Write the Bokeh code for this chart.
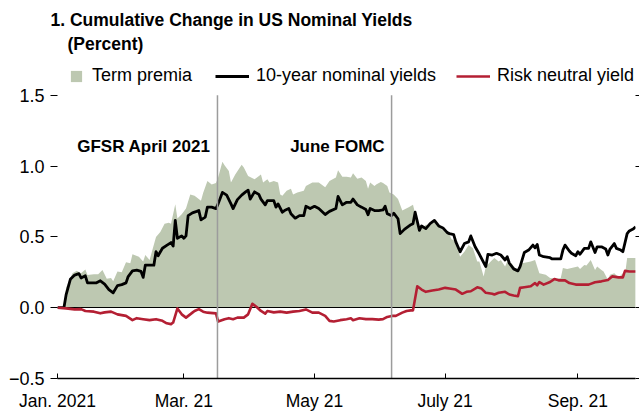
import pandas as pd
from bokeh.plotting import figure
from bokeh.models import (Range1d, FixedTicker, LinearAxis, Label, Legend, LegendItem, Title)
from bokeh.embed import file_html
from bokeh.resources import INLINE

FONT = "Liberation Sans"
BASE = pd.Timestamp("2021-01-01")

# ---- data: x values are days since 2021-01-01, y values in percent ----
nominal_day = [0, 3, 4, 6, 8, 10, 11, 13, 14, 16, 18, 20, 22, 24, 26, 28, 30, 32, 33, 35,
               37, 39, 40, 41, 43, 45, 46, 47, 49, 51, 53, 54, 55, 56, 58, 59, 60, 61, 63, 65,
               66, 67, 69, 70, 72, 74, 75, 77, 79, 81, 82, 84, 86, 88, 89, 90, 92, 94, 95, 97,
               98, 101, 102, 103, 105, 106, 108, 109, 111, 113, 115, 116, 118, 120, 122, 125, 127, 130, 131, 133,
               135, 137, 138, 140, 142, 144, 145, 146, 148, 150, 152, 153, 154, 156, 157, 159, 160, 162, 165, 166,
               167, 169, 170, 172, 174, 176, 178, 180, 182, 183, 185, 186, 188, 190, 192, 193, 195, 197, 200, 201,
               203, 205, 207, 209, 210, 211, 213, 215, 216, 218, 220, 222, 223, 224, 225, 227, 230, 231, 233, 235,
               236, 237, 239, 240, 242, 243, 244, 246, 248, 249, 251, 252, 254, 256, 257, 258, 260, 261, 263, 264,
               266, 267, 269, 270]
nominal_yield = [0.0, 0.0, 0.09, 0.20, 0.23, 0.24, 0.21, 0.225, 0.175, 0.175, 0.175, 0.19, 0.167, 0.128, 0.105, 0.156, 0.163, 0.175, 0.22, 0.26,
                 0.265, 0.256, 0.214, 0.30, 0.30, 0.30, 0.395, 0.367, 0.42, 0.44, 0.46, 0.435, 0.616, 0.49, 0.507, 0.49, 0.507, 0.65, 0.67, 0.68,
                 0.686, 0.62, 0.64, 0.71, 0.71, 0.70, 0.733, 0.814, 0.795, 0.733, 0.70, 0.763, 0.795, 0.82, 0.83, 0.767, 0.818, 0.80, 0.767, 0.726,
                 0.756, 0.756, 0.71, 0.733, 0.674, 0.686, 0.70, 0.663, 0.632, 0.65, 0.65, 0.716, 0.70, 0.716, 0.70, 0.658, 0.68, 0.70, 0.786, 0.726,
                 0.744, 0.744, 0.767, 0.726, 0.71, 0.693, 0.656, 0.70, 0.686, 0.686, 0.69, 0.716, 0.663, 0.65, 0.667, 0.628, 0.523, 0.553, 0.586, 0.593,
                 0.674, 0.546, 0.577, 0.558, 0.593, 0.616, 0.577, 0.563, 0.53, 0.523, 0.516, 0.465, 0.395, 0.453, 0.465, 0.507, 0.43, 0.377, 0.29, 0.377,
                 0.372, 0.384, 0.372, 0.337, 0.36, 0.314, 0.274, 0.26, 0.29, 0.39, 0.407, 0.442, 0.423, 0.447, 0.372, 0.36, 0.353, 0.344, 0.344, 0.344,
                 0.407, 0.442, 0.40, 0.384, 0.367, 0.395, 0.377, 0.419, 0.419, 0.465, 0.39, 0.43, 0.43, 0.414, 0.372, 0.414, 0.453, 0.419, 0.407, 0.395,
                 0.523, 0.542, 0.558, 0.57]

premia_day = [0, 3, 4, 7, 9, 11, 13, 14, 17, 19, 21, 23, 25, 26, 28, 30, 32, 34, 35, 38,
              40, 41, 43, 46, 48, 50, 52, 53, 55, 56, 58, 60, 62, 64, 67, 68, 70, 72, 74, 75,
              77, 78, 80, 81, 83, 86, 87, 89, 92, 93, 95, 96, 98, 99, 101, 103, 104, 105, 107, 109,
              110, 112, 115, 116, 119, 122, 125, 127, 130, 131, 133, 135, 137, 138, 140, 142, 144, 145, 146, 148,
              149, 151, 152, 154, 155, 157, 159, 161, 164, 166, 168, 169, 172, 174, 176, 178, 181, 183, 184, 186,
              188, 190, 192, 194, 196, 197, 199, 200, 203, 204, 206, 207, 209, 210, 212, 215, 217, 221, 223, 225,
              228, 230, 233, 235, 236, 238, 240, 243, 244, 246, 247, 249, 251, 252, 254, 255, 257, 258, 260, 262,
              264, 265, 266, 268, 270]
term_premia = [0.0, 0.0, 0.14, 0.244, 0.26, 0.244, 0.27, 0.23, 0.237, 0.237, 0.267, 0.205, 0.209, 0.186, 0.256, 0.251, 0.32, 0.314, 0.377, 0.36,
               0.326, 0.372, 0.337, 0.50, 0.535, 0.593, 0.60, 0.593, 0.73, 0.63, 0.66, 0.70, 0.80, 0.79, 0.755, 0.81, 0.895, 0.87, 0.88, 0.92,
               1.03, 1.005, 0.965, 0.884, 0.94, 1.01, 0.99, 0.93, 0.907, 0.918, 0.94, 0.884, 0.907, 0.884, 0.895, 0.884, 0.80, 0.79, 0.826, 0.84,
               0.80, 0.814, 0.826, 0.86, 0.884, 0.884, 0.85, 0.895, 0.92, 0.97, 0.925, 0.925, 0.92, 0.95, 0.91, 0.92, 0.895, 0.84, 0.884, 0.86,
               0.872, 0.888, 0.88, 0.86, 0.814, 0.80, 0.767, 0.686, 0.71, 0.726, 0.60, 0.546, 0.586, 0.58, 0.605, 0.57, 0.535, 0.516, 0.484, 0.47,
               0.36, 0.395, 0.442, 0.42, 0.326, 0.326, 0.22, 0.29, 0.337, 0.35, 0.326, 0.337, 0.29, 0.326, 0.314, 0.256, 0.314, 0.326, 0.337, 0.244,
               0.233, 0.209, 0.205, 0.209, 0.28, 0.274, 0.28, 0.29, 0.274, 0.302, 0.298, 0.337, 0.267, 0.29, 0.267, 0.256, 0.198, 0.233, 0.244, 0.214,
               0.244, 0.233, 0.35, 0.35, 0.35]

neutral_day = [0, 4, 8, 11, 13, 17, 20, 22, 25, 28, 32, 35, 37, 40, 43, 46, 49, 51, 53, 54,
               56, 58, 60, 63, 64, 66, 68, 70, 74, 75, 78, 80, 82, 84, 87, 89, 91, 93, 95, 97,
               98, 101, 104, 107, 110, 113, 116, 119, 122, 125, 127, 129, 132, 135, 137, 138, 141, 144, 147, 150,
               152, 154, 156, 158, 161, 163, 165, 166, 168, 170, 172, 175, 178, 181, 183, 186, 189, 191, 193, 196,
               198, 200, 203, 204, 206, 209, 211, 213, 215, 216, 218, 221, 223, 224, 225, 227, 230, 232, 234, 237,
               239, 242, 245, 248, 251, 254, 257, 259, 262, 264, 265, 267, 270]
risk_neutral = [0.0, -0.005, -0.012, -0.01, -0.023, -0.028, -0.04, -0.033, -0.028, -0.047, -0.058, -0.088, -0.074, -0.081, -0.088, -0.081, -0.093, -0.11, -0.116, -0.105,
                -0.005, -0.047, -0.07, -0.035, -0.023, -0.01, -0.028, -0.035, -0.04, -0.098, -0.081, -0.074, -0.081, -0.07, -0.07, -0.047, 0.028, 0.005, -0.023, -0.042,
                -0.023, -0.033, -0.028, -0.035, -0.028, -0.023, -0.012, -0.035, -0.035, -0.058, -0.093, -0.098, -0.088, -0.081, -0.075, -0.088, -0.075, -0.081, -0.081, -0.084,
                -0.081, -0.065, -0.058, -0.058, -0.035, -0.023, -0.019, -0.019, 0.151, 0.128, 0.112, 0.121, 0.128, 0.14, 0.135, 0.128, 0.098, 0.112, 0.116, 0.144,
                0.135, 0.105, 0.098, 0.093, 0.105, 0.112, 0.093, 0.086, 0.081, 0.14, 0.144, 0.151, 0.174, 0.158, 0.181, 0.163, 0.181, 0.202, 0.193, 0.193,
                0.174, 0.163, 0.163, 0.163, 0.179, 0.186, 0.195, 0.221, 0.214, 0.214, 0.26, 0.256, 0.256]

event_day = [74.7, 156.0]
event_labels = ["GFSR April 2021", "June FOMC"]

xtick_dates = ["2021-01-01", "2021-03-01", "2021-05-01", "2021-07-01", "2021-09-01"]
xtick_labels = ["Jan. 2021", "Mar. 21", "May 21", "July 21", "Sep. 21"]
ytick_values = [-0.5, 0.0, 0.5, 1.0, 1.5]
ytick_labels = ["\u22120.5", "0.0", "0.5", "1.0", "1.5"]

title_lines = ["1. Cumulative Change in US Nominal Yields", "(Percent)"]
series_names = ["Term premia", "10-year nominal yields", "Risk neutral yield"]

assert len(nominal_day) == len(nominal_yield)
assert len(premia_day) == len(term_premia)
assert len(neutral_day) == len(risk_neutral)


def to_dates(days):
    return list(BASE + pd.to_timedelta(pd.Series(days, dtype=float), unit="D"))


def ms(ts):
    return int(pd.Timestamp(ts).value // 10**6)


GREEN = "#BDC8B1"
RED = "#B41F33"
GREY = "#9c9c9c"

# layout: frame spans canvas y 56..380 so the legend row fits inside it;
# the value axis itself only runs from -0.5 to 1.5 (ticks fixed)
FRAME_TOP, FRAME_BOTTOM, Y_TOP_PX = 56, 380, 95
px_per_unit = (FRAME_BOTTOM - Y_TOP_PX) / (ytick_values[-1] - ytick_values[0])
y_end = ytick_values[-1] + (Y_TOP_PX - FRAME_TOP) / px_per_unit

x_end = (BASE + pd.Timedelta(days=269.9)).to_pydatetime()
p = figure(width=639, height=413, x_axis_type="datetime",
           x_range=Range1d(BASE.to_pydatetime(), x_end),
           y_range=Range1d(ytick_values[0], y_end),
           output_backend="svg", toolbar_location=None,
           min_border_left=57, min_border_right=4,
           min_border_top=FRAME_TOP, min_border_bottom=413 - FRAME_BOTTOM)
p.xgrid.visible = False
p.ygrid.visible = False
p.outline_line_color = None
p.background_fill_color = "white"
p.border_fill_color = "white"

# left axis
ya = p.yaxis[0]
ya.ticker = FixedTicker(ticks=ytick_values)
ya.major_label_overrides = {v: l for v, l in zip(ytick_values, ytick_labels)}
ya.axis_line_color = None
ya.major_tick_in = 0
ya.major_tick_out = 7
ya.major_tick_line_color = "black"
ya.minor_tick_line_color = None
ya.major_label_standoff = 6
ya.major_label_text_font = FONT
ya.major_label_text_font_size = "18px"
ya.major_label_text_color = "black"

# right axis (ticks only)
ra = LinearAxis(ticker=FixedTicker(ticks=ytick_values),
                major_label_overrides={v: "" for v in ytick_values},
                axis_line_color=None, major_tick_in=0, major_tick_out=4,
                major_tick_line_color="black", minor_tick_line_color=None,
                major_label_standoff=0, major_label_text_font_size="1px")
p.add_layout(ra, "right")

# bottom axis
xa = p.xaxis[0]
xt = [ms(d) for d in xtick_dates]
xa.ticker = FixedTicker(ticks=xt)
xa.major_label_overrides = {t: l for t, l in zip(xt, xtick_labels)}
xa.axis_line_color = "black"
xa.axis_line_width = 1.5
xa.major_tick_in = 5
xa.major_tick_out = 0
xa.major_tick_line_color = "black"
xa.minor_tick_line_color = None
xa.major_label_standoff = 12
xa.major_label_text_font = FONT
xa.major_label_text_font_size = "17.5px"
xa.major_label_text_color = "black"

# glyphs
tp_r = p.varea(x=to_dates(premia_day), y1=0, y2=term_premia, fill_color=GREEN)
p.hspan(y=[0], line_color="black", line_width=1)
nom_r = p.line(to_dates(nominal_day), nominal_yield, line_color="black", line_width=2.8, line_join="round")
rn_r = p.line(to_dates(neutral_day), risk_neutral, line_color=RED, line_width=2.6, line_join="round")
ev_dates = to_dates(event_day)
p.segment(x0=ev_dates, y0=[ytick_values[0]] * len(ev_dates), x1=ev_dates,
          y1=[ytick_values[-1]] * len(ev_dates), line_color=GREY, line_width=1.5)

for d, txt in zip(ev_dates, event_labels):
    p.add_layout(Label(x=ms(d), y=1.135, text=txt, text_align="right", x_offset=-7,
                       text_baseline="alphabetic", text_font=FONT, text_font_style="bold",
                       text_font_size="17px", text_color="black"))

# title (two lines, second one indented)
p.title.text = ""
t2 = Title(text=title_lines[1], align="left", offset=10, standoff=5,
           text_font=FONT, text_font_style="bold", text_font_size="17.5px", text_color="black")
t1 = Title(text=title_lines[0], align="left", offset=-7, standoff=0,
           text_font=FONT, text_font_style="bold", text_font_size="17.5px", text_color="black")
p.add_layout(t2, "above")
p.add_layout(t1, "above")

# legends (one per item so each glyph can be sized like the original)
leg_specs = [(tp_r, series_names[0], 14, 9, 12),
             (nom_r, series_names[1], 34, 7, 158),
             (rn_r, series_names[2], 34, 7, 399)]
for r, name, gw, standoff, lx in leg_specs:
    lg = Legend(items=[LegendItem(label=name, renderers=[r])],
                location=(lx, 292), orientation="horizontal",
                glyph_width=gw, glyph_height=14, label_height=14,
                label_standoff=standoff, padding=0, margin=0, spacing=0,
                border_line_color=None, background_fill_alpha=0,
                label_text_font=FONT, label_text_font_size="18px",
                label_text_color="black")
    p.add_layout(lg, "center")

open("out.html", "w").write(file_html(p, INLINE))
